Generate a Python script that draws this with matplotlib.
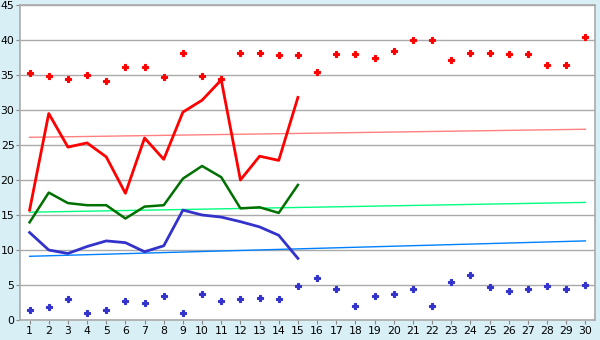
import matplotlib
matplotlib.use("Agg")
import matplotlib.pyplot as plt

# categories 1..30
days = list(range(1, 31))

# upper scatter (red) and lower scatter (blue)
red_pts = [35.3, 34.8, 34.4, 34.95, 34.2, 36.1, 36.1, 34.7, 38.2, 34.8,
           34.5, 38.1, 38.1, 37.8, 37.8, 35.4, 37.95, 37.95, 37.5, 38.5,
           40.0, 40.0, 37.1, 38.1, 38.1, 37.95, 37.95, 36.4, 36.5, 40.4]
blue_pts = [1.5, 1.8, 2.95, 0.95, 1.5, 2.7, 2.4, 3.5, 0.95, 3.65,
            2.7, 2.95, 3.1, 2.95, 4.8, 5.95, 4.4, 1.95, 3.4, 3.65,
            4.4, 1.95, 5.4, 6.4, 4.7, 4.1, 4.4, 4.8, 4.4, 4.95]

# lines over the first 15 categories
line_days = days[:15]
red_line = [15.7, 29.5, 24.7, 25.3, 23.3, 18.1, 26.0, 22.95, 29.7, 31.4,
            34.3, 20.0, 23.4, 22.8, 31.8]
green_line = [13.95, 18.2, 16.7, 16.4, 16.4, 14.5, 16.2, 16.4, 20.2, 22.0,
              20.4, 15.95, 16.1, 15.3, 19.3]
blue_line = [12.5, 10.0, 9.5, 10.5, 11.3, 11.05, 9.75, 10.6, 15.7, 15.0,
             14.7, 14.05, 13.3, 12.1, 8.8]

# trend lines (endpoints)
trend_x = [1, 30]
trend_red = [26.1, 27.25]
trend_green = [15.4, 16.8]
trend_blue = [9.1, 11.3]

bg = '#d9eff6'
fig = plt.figure(figsize=(6, 3.4), dpi=100, facecolor=bg)
ax = fig.add_axes([20 / 600, 20 / 340, 575 / 600, 315 / 340])
ax.set_facecolor('white')

ax.plot(trend_x, trend_red, color='#ff8080', lw=1.0, zorder=2)
ax.plot(trend_x, trend_green, color='#00ff80', lw=1.0, zorder=2)
ax.plot(trend_x, trend_blue, color='#0080ff', lw=1.0, zorder=2)

ax.plot(line_days, red_line, color='#ff0000', lw=2.0, zorder=3)
ax.plot(line_days, green_line, color='#007000', lw=1.8, zorder=3)
ax.plot(line_days, blue_line, color='#3333cc', lw=2.0, zorder=3)

ax.plot(days, red_pts, ls='none', marker='P', ms=5, color='#ff0000',
        markeredgewidth=0.8, zorder=4)
ax.plot(days, blue_pts, ls='none', marker='P', ms=5, color='#3333cc',
        markeredgewidth=0.8, zorder=4)

ax.set_xlim(0.5, 30.5)
ax.set_ylim(0, 45)
ax.set_xticks(days)
ax.set_yticks(range(0, 50, 5))
ax.yaxis.grid(True, color='#aaaaaa', lw=1)
ax.set_axisbelow(True)
for s in ax.spines.values():
    s.set_color('#aaaaaa')
    s.set_linewidth(1.2)
ax.tick_params(axis='both', colors='#888888', labelcolor='black',
               labelsize=7.8, length=3, pad=1)

fig.savefig('out.png', dpi=100, facecolor=bg)
